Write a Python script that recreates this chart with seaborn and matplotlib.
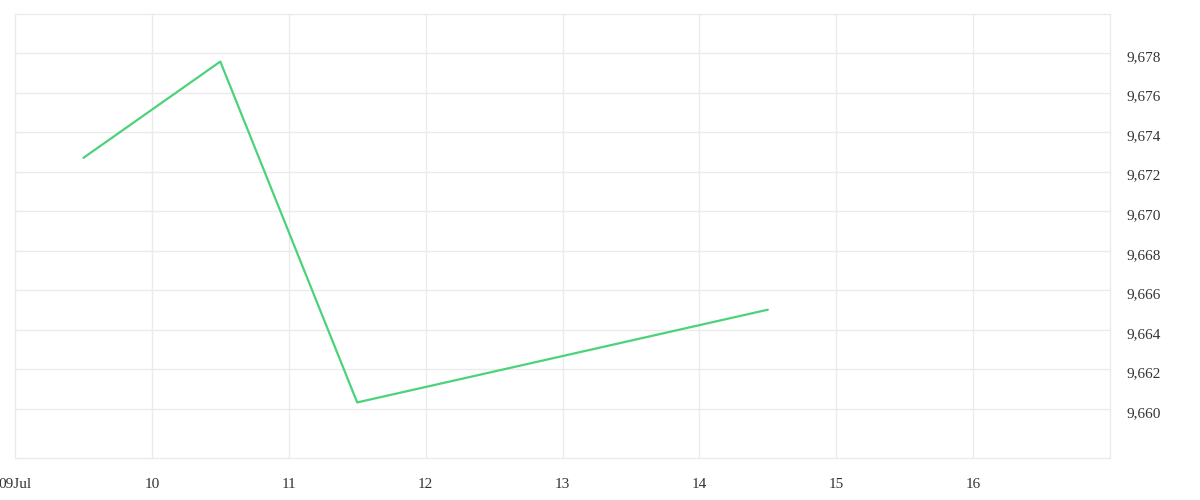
import matplotlib
matplotlib.use("Agg")
import matplotlib.pyplot as plt
import matplotlib.dates as mdates
import matplotlib.ticker as mticker
import matplotlib.transforms as mtransforms
import seaborn as sns
import pandas as pd

# ---- data ----
dates = ["2024-07-09 12:00", "2024-07-10 12:00", "2024-07-11 12:00", "2024-07-14 12:00"]
values = [9672.70, 9677.57, 9660.33, 9665.02]
tick_dates = ["2024-07-09", "2024-07-10", "2024-07-11", "2024-07-12", "2024-07-13",
              "2024-07-14", "2024-07-15", "2024-07-16", "2024-07-17"]
tick_labels = ["09Jul", "10", "11", "12", "13", "14", "15", "16", ""]
y_ticks = [9660, 9662, 9664, 9666, 9668, 9670, 9672, 9674, 9676, 9678, 9680]

df = pd.DataFrame({"date": pd.to_datetime(dates), "value": values})

sns.set_theme(style="white")
plt.rcParams["font.family"] = ["Liberation Serif", "DejaVu Serif"]

fig = plt.figure(figsize=(12, 5), dpi=100)
ax = fig.add_axes([15/1200, 1 - 458/500, (1110 - 15)/1200, (458 - 13.5)/500])

grid_color = "#ebebeb"
sns.lineplot(data=df, x="date", y="value", ax=ax, color="#4CD27A", linewidth=1.6)

ax.set_xlim(pd.Timestamp(tick_dates[0]), pd.Timestamp(tick_dates[-1]))
ax.set_ylim(9657.52, 9680)

ax.set_xticks([mdates.date2num(pd.Timestamp(d)) for d in tick_dates])
ax.set_xticklabels(tick_labels)
ax.set_yticks(y_ticks)
ax.yaxis.set_major_formatter(mticker.FuncFormatter(
    lambda v, p: "" if v >= 9680 else f"{v:,.0f}"))

ax.yaxis.tick_right()
ax.grid(True, color=grid_color, linewidth=1)
ax.set_axisbelow(True)
for s in ax.spines.values():
    s.set_visible(False)
for gl in ax.get_xgridlines() + ax.get_ygridlines():
    gl.set_clip_on(False)
ax.axhline(9657.52, color=grid_color, linewidth=1, zorder=0, clip_on=False)

ax.tick_params(axis="x", length=7.2, width=1, color=grid_color, pad=7,
               labelsize=11, labelcolor="#333333")
ax.tick_params(axis="y", length=0, pad=12, labelsize=11, labelcolor="#333333")
offset = mtransforms.ScaledTranslation(0, -3/100, fig.dpi_scale_trans)
for lbl in ax.get_yticklabels():
    lbl.set_horizontalalignment("left")
    lbl.set_transform(lbl.get_transform() + offset)
ax.set_xlabel("")
ax.set_ylabel("")

fig.savefig("out.png", dpi=100, facecolor="white")
